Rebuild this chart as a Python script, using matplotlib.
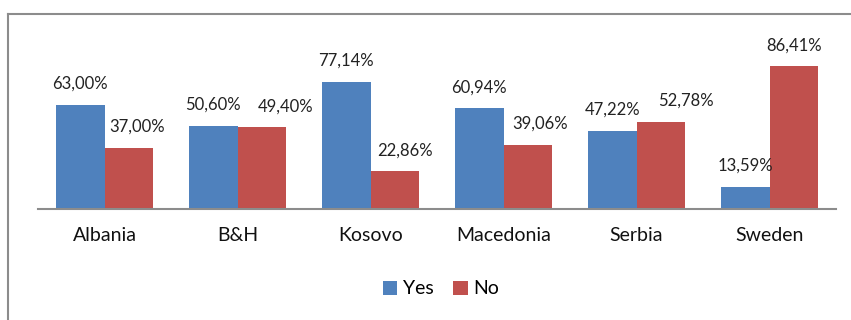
import matplotlib
matplotlib.use("Agg")
import matplotlib.pyplot as plt
import numpy as np
from matplotlib.lines import Line2D

countries = ["Albania", "B&H", "Kosovo", "Macedonia", "Serbia", "Sweden"]
yes_vals = [63.00, 50.60, 77.14, 60.94, 47.22, 13.59]
no_vals = [37.00, 49.40, 22.86, 39.06, 52.78, 86.41]
series_names = ["Yes", "No"]

BLUE = "#4F81BD"
RED = "#C0504D"
GRAY = "#8C8C8C"

# horizontal nudges (pixels) for the data labels, so neighbours don't collide
yes_label_dx = [0, 0, 0, 0, 0, 0]
no_label_dx = [8, 24, 10, 12, 25, 0]

plt.rcParams["font.family"] = ["Lato", "DejaVu Sans"]

fig = plt.figure(figsize=(8.51, 3.2), dpi=100)
ax = fig.add_axes([38 / 851, 1 - 209 / 320, (836 - 38) / 851, (209 - 44) / 320])

x = np.arange(len(countries))
w = 0.365
b1 = ax.bar(x - w / 2, yes_vals, w, color=BLUE, label=series_names[0])
b2 = ax.bar(x + w / 2, no_vals, w, color=RED, label=series_names[1])

px2pt = 72 / fig.dpi
for bars, vals, dxs in ((b1, yes_vals, yes_label_dx), (b2, no_vals, no_label_dx)):
    for rect, v, dx in zip(bars, vals, dxs):
        ax.annotate(f"{v:.2f}%".replace(".", ","),
                    (rect.get_x() + rect.get_width() / 2, rect.get_height()),
                    xytext=(dx * px2pt, 21 * px2pt), textcoords="offset points",
                    ha="center", va="center", fontsize=12, color="#222222")

ax.set_xlim(-0.5, len(countries) - 0.5)
ax.set_ylim(0, 100)
ax.set_yticks([])
ax.set_xticks(x)
ax.set_xticklabels(countries, fontsize=14)
ax.tick_params(axis="x", length=0, pad=13, colors="#111111")
for s in ("top", "right", "left"):
    ax.spines[s].set_visible(False)
ax.spines["bottom"].set_color(GRAY)
ax.spines["bottom"].set_linewidth(1.5)

leg = fig.legend(handles=[b1, b2], loc="center", bbox_to_anchor=(441 / 851, 1 - 289 / 320),
                 ncol=2, frameon=False, fontsize=14, handlelength=0.75, handleheight=0.75,
                 handletextpad=0.3, columnspacing=1.0)

# chart area frame
fig.add_artist(Line2D([8 / 851, 8 / 851], [0, 1 - 14 / 320], transform=fig.transFigure,
                      color=GRAY, lw=1.5))
fig.add_artist(Line2D([8 / 851, 1], [1 - 14 / 320, 1 - 14 / 320], transform=fig.transFigure,
                      color=GRAY, lw=1.5))

fig.savefig("out.png", dpi=100, facecolor="white")
